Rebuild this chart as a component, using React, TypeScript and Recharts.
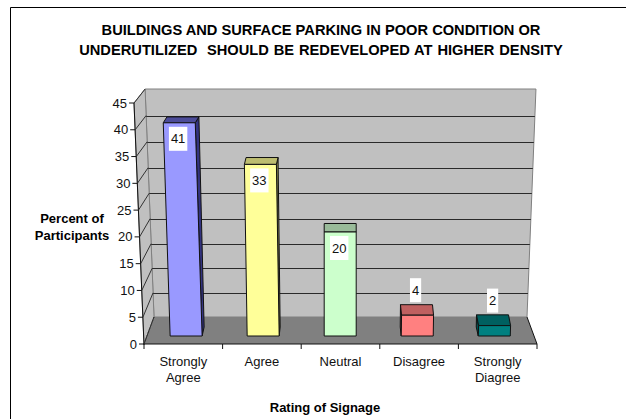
import { Bar, BarChart, CartesianGrid, LabelList, XAxis, YAxis } from "recharts";

const categories = ["Strongly Agree", "Agree", "Neutral", "Disagree", "Strongly Diagree"];
const percents = [41, 33, 20, 4, 2];
const axisTicks = [0, 5, 10, 15, 20, 25, 30, 35, 40, 45];
const wallTicks = [5, 10, 15, 20, 25, 30, 35, 40];
const faceColors = ["#9999FF", "#FFFF99", "#CCFFCC", "#FF8080", "#008080"];
const capColors = ["#4C4C99", "#BDBD70", "#99BB99", "#C06060", "#006060"];
const sideColors = ["#333380", "#8C8C50", "#80A080", "#A05050", "#005050"];

const data = categories.map((name, i) => ({ name, percent: percents[i] }));

const WIDTH = 626;
const HEIGHT = 419;
const PLOT_LEFT = 144;
const PLOT_RIGHT = 537;
const FRONT_TOP = 103;
const FRONT_BASE = 344;
const BAND = (PLOT_RIGHT - PLOT_LEFT) / categories.length;
const WALL_BASE = 317;
const WALL_TOP = 89;
const WALL_UNIT = (WALL_BASE - WALL_TOP) / 45;
const BAR_BASE = 336;
const BAR_UNIT = 5.2;
const VANISH_X = 340;

// the 3D plot leans away from the middle as it goes up
const lean = (x: number, h: number) => (x - VANISH_X) * 0.00021 * h;

// pixel range is shared, so each hidden axis gets a domain that puts its zero where it belongs
const domainFor = (base: number, unit: number): [number, number] => [
  (base - FRONT_BASE) / unit,
  (base - FRONT_TOP) / unit,
];

const pts = (list: number[][]) => list.map((p) => p.join(",")).join(" ");

function Backdrop() {
  const wl = (y: number) => 154 + lean(154, WALL_BASE - y);
  const wr = (y: number) => 527 + lean(527, WALL_BASE - y);
  return (
    <svg width={WIDTH} height={HEIGHT} style={{ position: "absolute", left: 0, top: 0 }}>
      <rect width={WIDTH} height={HEIGHT} fill="#fff" />
      <path d={`M10.5 ${HEIGHT} V7.5 H${WIDTH}`} fill="none" stroke="#000" />
      <g fontFamily="Liberation Sans" fontWeight={700} textAnchor="middle" fill="#000">
        <text x={321} y={35} fontSize={14.67}>BUILDINGS AND SURFACE PARKING IN POOR CONDITION OR</text>
        <text x={321} y={55} fontSize={14.67} wordSpacing={0.8} xmlSpace="preserve">UNDERUTILIZED  SHOULD BE REDEVELOPED AT HIGHER DENSITY</text>
        <text x={72} y={223} fontSize={13}>Percent of</text>
        <text x={72} y={240} fontSize={13}>Participants</text>
        <text x={325} y={412} fontSize={13}>Rating of Signage</text>
      </g>
      <polygon
        points={pts([[wl(WALL_TOP), WALL_TOP], [wr(WALL_TOP), WALL_TOP], [wr(WALL_BASE), WALL_BASE], [wl(WALL_BASE), WALL_BASE]])}
        fill="#C0C0C0"
        stroke="#808080"
      />
      <polygon
        points={pts([[134, FRONT_TOP], [wl(WALL_TOP), WALL_TOP], [wl(WALL_BASE), WALL_BASE], [PLOT_LEFT, FRONT_BASE]])}
        fill="#C0C0C0"
        stroke="#808080"
      />
      <polygon
        points={pts([[wl(WALL_BASE), WALL_BASE], [wr(WALL_BASE), WALL_BASE], [PLOT_RIGHT, FRONT_BASE], [PLOT_LEFT, FRONT_BASE]])}
        fill="#808080"
      />
      <line x1={wr(WALL_BASE)} y1={WALL_BASE} x2={PLOT_RIGHT} y2={FRONT_BASE} stroke="#111" />
      <line x1={wl(WALL_BASE)} y1={WALL_BASE} x2={PLOT_LEFT} y2={FRONT_BASE} stroke="#333" strokeDasharray="2 1" />
      <line x1={134} y1={FRONT_TOP} x2={PLOT_LEFT} y2={FRONT_BASE + 1} stroke="#111" />
    </svg>
  );
}

function WallLine(props: any) {
  const { y1 } = props;
  const t = (WALL_BASE - y1) / (WALL_BASE - WALL_TOP);
  const y = Math.round(y1 + 12 * t * (1 - t)) + 0.5;
  const h = WALL_BASE - y;
  return (
    <line
      x1={154 + lean(154, h)}
      x2={527 + lean(527, h)}
      y1={y}
      y2={y}
      stroke="#2A2A2A"
      strokeWidth={1}
    />
  );
}

function ValueTick(props: any) {
  const { y, payload } = props;
  const x = PLOT_LEFT + lean(PLOT_LEFT, FRONT_BASE - y);
  const wallY = WALL_BASE - payload.value * WALL_UNIT;
  const t = payload.value / 45;
  const backY = wallY + 12 * t * (1 - t);
  const backX = 154 + lean(154, WALL_BASE - backY);
  return (
    <g>
      <line x1={x} y1={y} x2={backX} y2={backY} stroke="#333" />
      <line x1={x - 5} y1={y} x2={x} y2={y} stroke="#111" />
      <text x={x - 7} y={y + 4.5} textAnchor="end" fontFamily="Liberation Sans" fontSize={13} fill="#111">
        {payload.value}
      </text>
    </g>
  );
}

function CategoryTick(props: any) {
  const { x, y, payload, index } = props;
  const lines = String(payload.value).split(" ");
  const last = index === categories.length - 1;
  return (
    <g>
      <line x1={x - BAND / 2} y1={y} x2={x - BAND / 2} y2={y + 5} stroke="#111" />
      {last ? <line x1={x + BAND / 2} y1={y} x2={x + BAND / 2} y2={y + 5} stroke="#111" /> : null}
      {lines.map((word, i) => (
        <text
          key={word}
          x={x}
          y={y + 22 + i * 16}
          textAnchor="middle"
          fontFamily="Liberation Sans"
          fontSize={13}
          fill="#111"
        >
          {word}
        </text>
      ))}
    </g>
  );
}

function Bar3D(props: any) {
  const { x, y, width, height, index } = props;
  const cx = VANISH_X + (x + width / 2 - VANISH_X) * 0.98;
  const half = width / 2;
  const bottom = y + height;
  const l = lean(cx, height);
  const dx = (VANISH_X - cx) * (0.013 + 0.00005 * height);
  const dy = -(11 - 0.024 * height);
  const baseDx = (VANISH_X - cx) * 0.013;
  const edge = dx > 0 ? half : -half;
  return (
    <g stroke="#111" strokeLinejoin="round">
      {Math.abs(baseDx) > 0.5 ? (
        <polygon
          fill={sideColors[index]}
          points={pts([
            [cx + edge, bottom],
            [cx + edge + baseDx, bottom - 9],
            [cx + edge + l + dx, y + dy],
            [cx + edge + l, y],
          ])}
        />
      ) : null}
      <polygon
        fill={capColors[index]}
        points={pts([
          [cx - half + l, y],
          [cx + half + l, y],
          [cx + half + l + dx, y + dy],
          [cx - half + l + dx, y + dy],
        ])}
      />
      <polygon
        fill={faceColors[index]}
        points={pts([
          [cx - half, bottom],
          [cx + half, bottom],
          [cx + half + l, y],
          [cx - half + l, y],
        ])}
      />
    </g>
  );
}

function ValueLabel(props: any) {
  const { x, y, width, height, value } = props;
  const cx = VANISH_X + (x + width / 2 - VANISH_X) * 0.98 + lean(x + width / 2, height);
  const small = value < 10;
  const midX = small ? cx - 2 : cx - 1;
  const midY = small ? y - 25 : y + 16;
  const boxW = String(value).length * 7.2 + 4;
  return (
    <g>
      <rect x={midX - boxW / 2} y={midY - 12} width={boxW} height={24} fill="#fff" />
      <text x={midX} y={midY + 4.5} textAnchor="middle" fontFamily="Liberation Sans" fontSize={13} fill="#111">
        {value}
      </text>
    </g>
  );
}

export default function App() {
  return (
    <div style={{ position: "absolute", left: 0, top: 0, width: WIDTH, height: HEIGHT }}>
      <Backdrop />
      <div style={{ position: "absolute", left: 0, top: 0 }}>
        <BarChart
          width={WIDTH}
          height={HEIGHT}
          data={data}
          margin={{ top: FRONT_TOP, right: WIDTH - PLOT_RIGHT, bottom: 0, left: PLOT_LEFT - 60 }}
          barSize={32}
        >
          <YAxis yAxisId="wall" hide type="number" allowDataOverflow domain={domainFor(WALL_BASE, WALL_UNIT)} ticks={wallTicks} />
          <YAxis yAxisId="bars" hide type="number" allowDataOverflow domain={domainFor(BAR_BASE, BAR_UNIT)} />
          <CartesianGrid yAxisId="wall" vertical={false} syncWithTicks horizontal={(p: any) => <WallLine key={p.index} {...p} />} />
          <YAxis
            width={60}
            type="number"
            allowDataOverflow
            domain={[0, 45]}
            ticks={axisTicks}
            interval={0}
            axisLine={false}
            tickLine={false}
            tickSize={0}
            tickMargin={0}
            tick={<ValueTick />}
          />
          <XAxis
            dataKey="name"
            height={HEIGHT - FRONT_BASE}
            interval={0}
            tickLine={false}
            tickSize={0}
            tickMargin={0}
            axisLine={{ stroke: "#111" }}
            tick={<CategoryTick />}
          />
          <Bar yAxisId="bars" dataKey="percent" isAnimationActive={false} shape={<Bar3D />}>
            <LabelList dataKey="percent" content={<ValueLabel />} />
          </Bar>
        </BarChart>
      </div>
    </div>
  );
}
